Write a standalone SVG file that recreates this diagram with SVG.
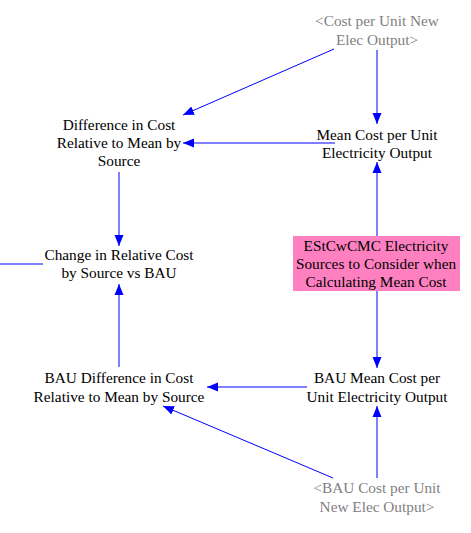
<svg xmlns="http://www.w3.org/2000/svg" width="471" height="533" viewBox="0 0 471 533">
<style>
text{font-family:"Liberation Serif","Times New Roman",serif;font-size:15.3px;fill:#000;text-anchor:middle}
text.g{fill:#808080}
.c line{stroke:#0000FF;stroke-width:1;fill:none}
</style>
<defs>
<marker id="a" markerUnits="userSpaceOnUse" markerWidth="12" markerHeight="10" refX="11" refY="5" orient="auto">
<path d="M0,0.5 L11,5 L0,9.5 Z" fill="#0000FF"/>
</marker>
</defs>
<rect width="471" height="533" fill="#fff"/>
<g class="c" id="connectors">
<line x1="377" y1="50" x2="377" y2="124" marker-end="url(#a)"/>
<line x1="334" y1="49" x2="183" y2="115" marker-end="url(#a)"/>
<line x1="335" y1="143" x2="183" y2="143" marker-end="url(#a)"/>
<line x1="119" y1="172" x2="119" y2="246" marker-end="url(#a)"/>
<line x1="0" y1="264" x2="43" y2="264"/>
<line x1="119" y1="367" x2="119" y2="284" marker-end="url(#a)"/>
<line x1="377" y1="236" x2="377" y2="162" marker-end="url(#a)"/>
<line x1="377" y1="291" x2="377" y2="368" marker-end="url(#a)"/>
<line x1="307" y1="387" x2="207" y2="387" marker-end="url(#a)"/>
<line x1="333" y1="478" x2="163" y2="406" marker-end="url(#a)"/>
<line x1="377" y1="478" x2="377" y2="406" marker-end="url(#a)"/>
</g>
<g id="cost_per_unit_new">
<text class="g" x="377" y="26">&lt;Cost per Unit New</text>
<text class="g" x="377" y="45">Elec Output&gt;</text>
</g>
<g id="mean_cost">
<text x="377" y="140">Mean Cost per Unit</text>
<text x="377" y="158">Electricity Output</text>
</g>
<g id="difference">
<text x="119" y="130">Difference in Cost</text>
<text x="119" y="148">Relative to Mean by</text>
<text x="119" y="166">Source</text>
</g>
<g id="change">
<text x="119" y="260">Change in Relative Cost</text>
<text x="119" y="278">by Source vs BAU</text>
</g>
<g id="estcwcmc">
<rect x="293" y="236" width="167" height="55" fill="#FF80C0"/>
<text x="376" y="251">EStCwCMC Electricity</text>
<text x="376" y="269">Sources to Consider when</text>
<text x="376" y="287">Calculating Mean Cost</text>
</g>
<g id="bau_mean_cost">
<text x="377" y="383">BAU Mean Cost per</text>
<text x="377" y="402">Unit Electricity Output</text>
</g>
<g id="bau_difference">
<text x="119" y="383">BAU Difference in Cost</text>
<text x="119" y="402">Relative to Mean by Source</text>
</g>
<g id="bau_cost_per_unit_new">
<text class="g" x="377" y="493">&lt;BAU Cost per Unit</text>
<text class="g" x="377" y="512">New Elec Output&gt;</text>
</g>
</svg>
